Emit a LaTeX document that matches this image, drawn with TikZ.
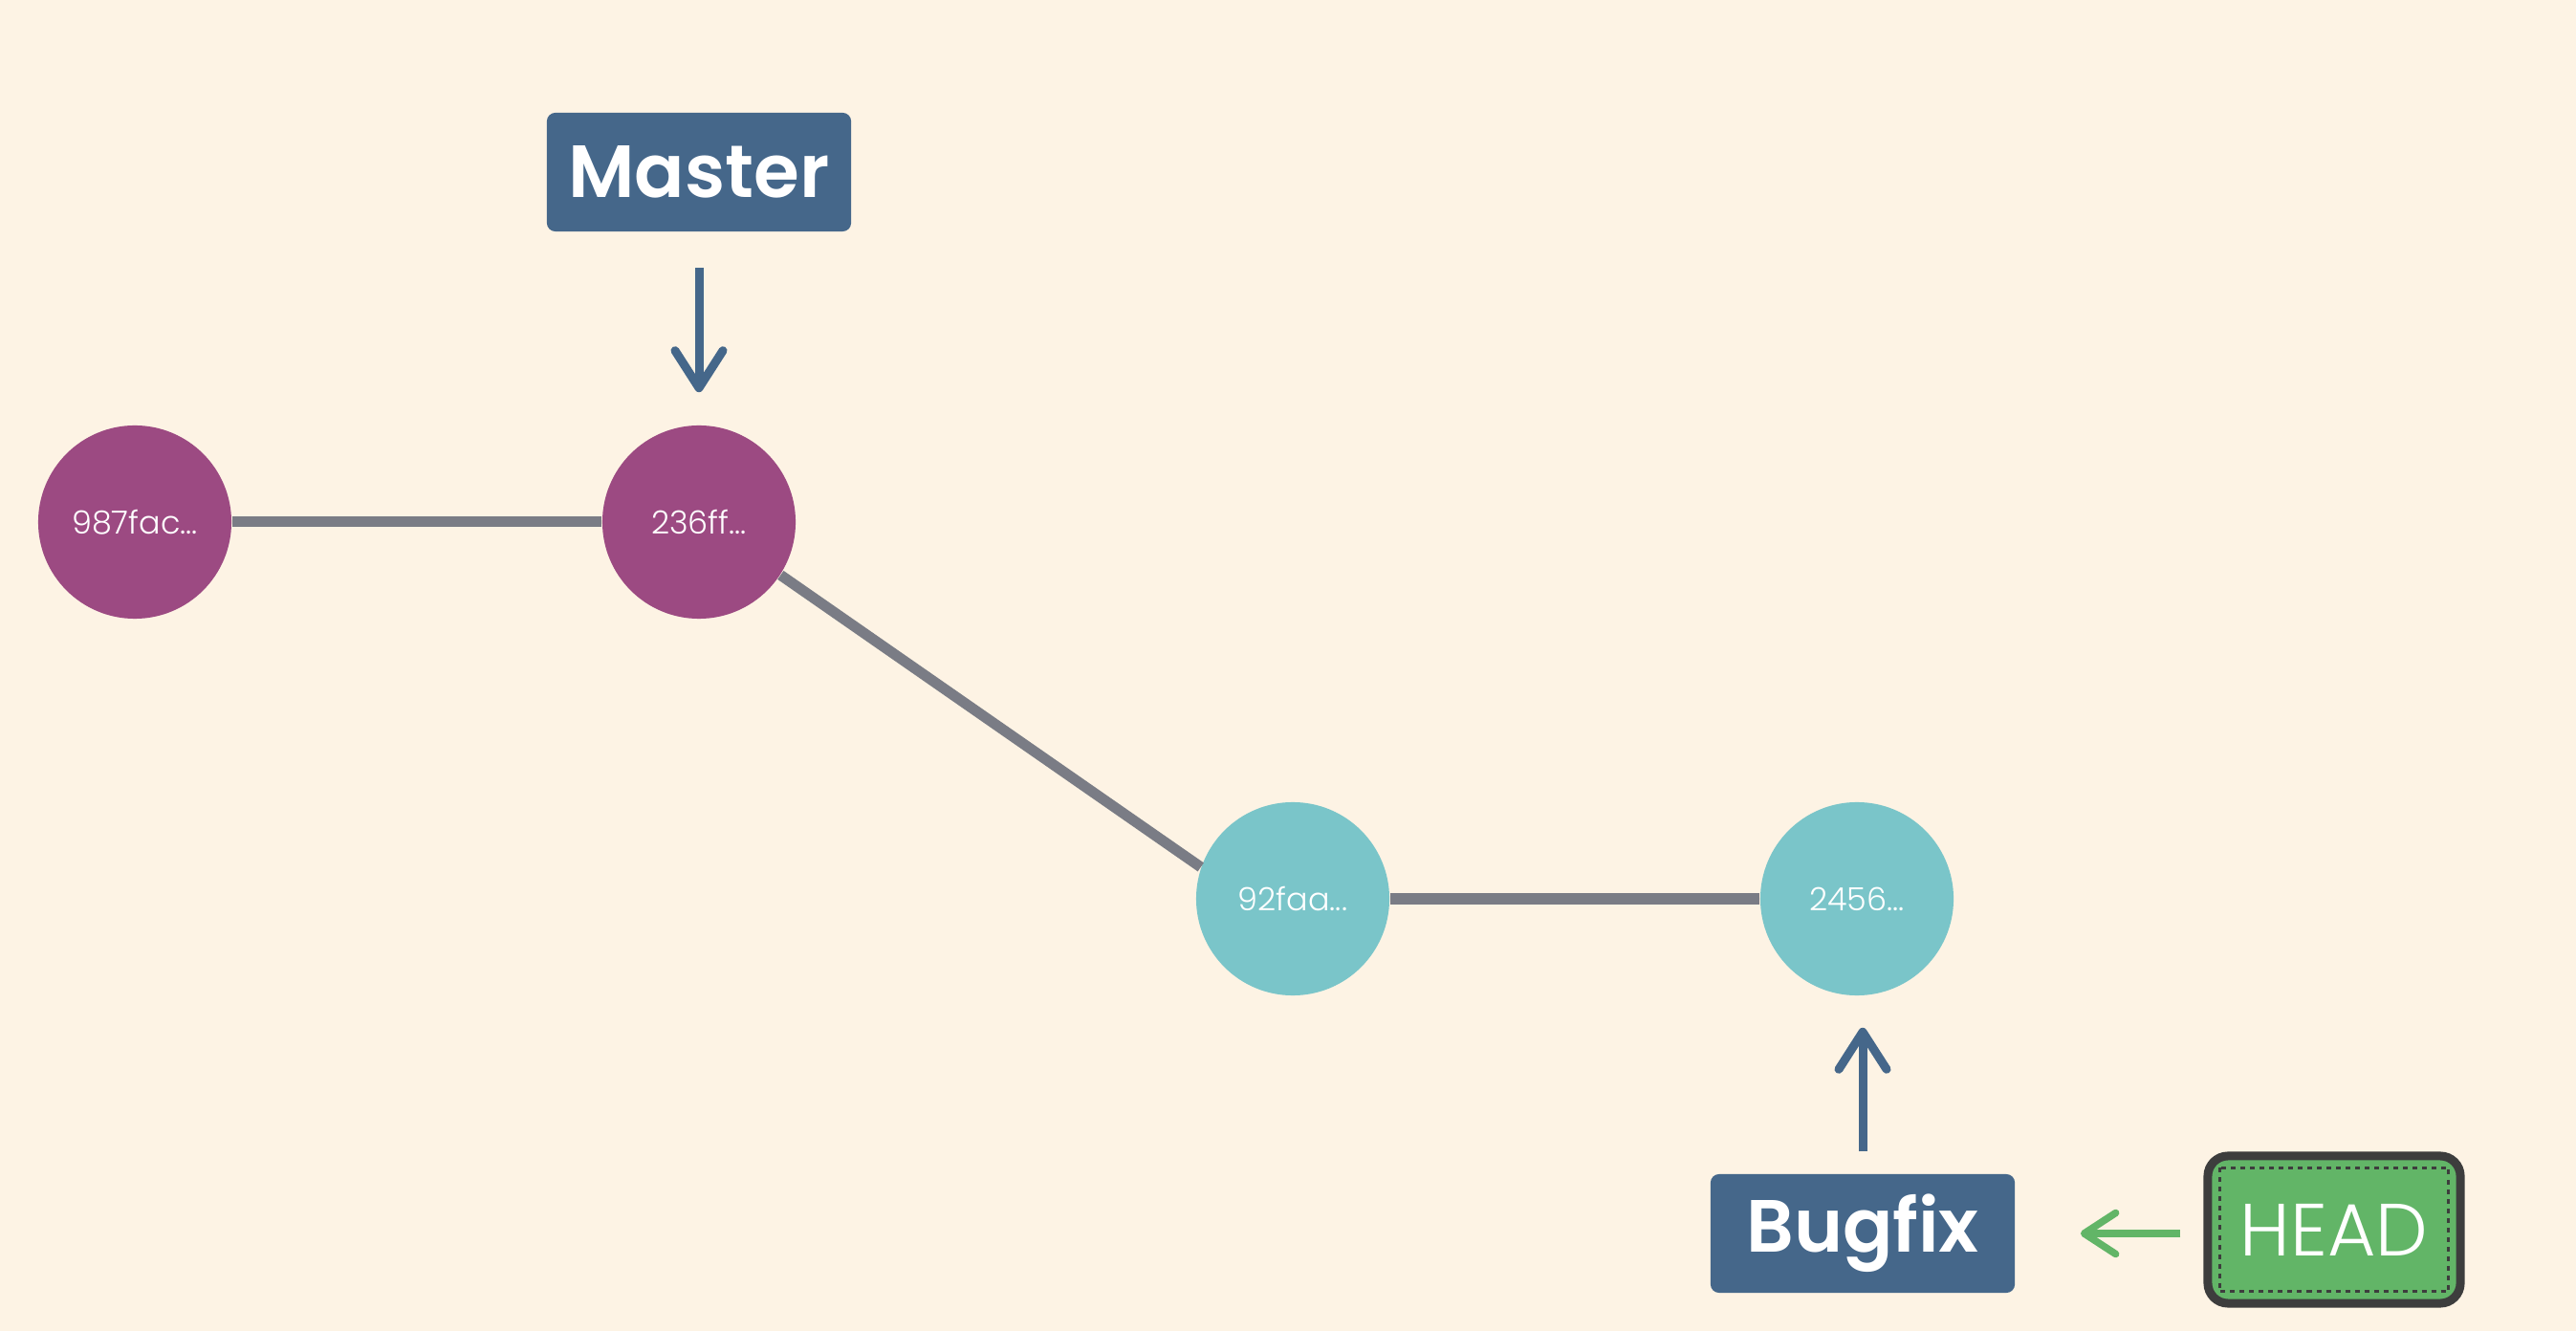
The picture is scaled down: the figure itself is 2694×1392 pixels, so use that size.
\documentclass[tikz,border=0pt]{standalone}
\usepackage{fontspec}
\setmainfont{Poppins}
\newfontfamily\thinfont{Poppins}[UprightFont={* Light}]
\newfontfamily\semifont{Poppins}[UprightFont={* SemiBold}]
\usepackage{xcolor}
\usetikzlibrary{arrows.meta}
\definecolor{paper}{HTML}{FDF3E4}
\definecolor{plum}{HTML}{9C4A82}
\definecolor{aqua}{HTML}{7AC5C9}
\definecolor{slate}{HTML}{45678A}
\definecolor{leaf}{HTML}{62B567}
\definecolor{ink}{HTML}{3D3D3D}
\definecolor{wire}{HTML}{7A7C85}
\tikzset{
	commit/.style={
			circle, fill=#1, inner sep=0pt, minimum size=2.02cm,
			text=white, font=\thinfont\fontsize{9.5}{10}\selectfont
		},
	branch/.style={
			rectangle, rounded corners=2.5pt, fill=slate, text=white,
			minimum width=3.18cm, minimum height=1.24cm,
			font=\semifont\fontsize{22}{24}\selectfont
		},
	headbox/.style={
			rectangle, rounded corners=6pt, fill=leaf, draw=ink, line width=0.09cm,
			minimum width=2.64cm, minimum height=1.54cm, text=white,
			font=\thinfont\fontsize{22}{24}\selectfont
		},
	link/.style={draw=wire, line width=0.11cm},
	pointer/.style={
			draw=#1, line width=0.09cm,
			-{Straight Barb[length=0.39cm, width=0.5cm, line cap=round, line join=round]}
		}
}

\begin{document}
\begin{tikzpicture}[x=0.01cm, y=-0.01cm]
		\fill [paper] (0,0) rectangle (2694,1392);
		\useasboundingbox (0,0) rectangle (2694,1392);

		\node [commit=plum]	(c1) at (141,546)  {987fac...};
		\node [commit=plum]	(c2) at (731,546)  {236ff...};
		\node [commit=aqua]	(c3) at (1352,940) {92faa...};
		\node [commit=aqua]	(c4) at (1942,940) {2456...};
		\draw [link]	(c1) -- (c2);
		\draw [link]	(c2.-33) -- (c3.161);
		\draw [link]	(c3) -- (c4);

		\node [branch]	(master) at (731,180)  {Master};
		\node [branch]	(bugfix) at (1948,1290) {Bugfix};
		\node [headbox]	(head) at (2441,1286) {HEAD};
		\draw [ink, line width=0.025cm, dash pattern=on 0.05cm off 0.05cm]
			([shift={(17,17)}]head.north west) rectangle ([shift={(-17,-17)}]head.south east);

		\draw [pointer=slate, shorten <=0.37cm, shorten >=0.34cm]	(master.south) -- (c2.north);
		\draw [pointer=slate, shorten <=0.23cm, shorten >=0.33cm]	(bugfix.north) -- (bugfix.north |- c4.south);
		\draw [pointer=leaf, line width=0.075cm, shorten <=0.24cm, shorten >=0.68cm,
			-{Straight Barb[length=0.33cm, width=0.43cm, line cap=round, line join=round]}]	(bugfix.east -| head.west) -- (bugfix.east);
	\end{tikzpicture}
\end{document}
